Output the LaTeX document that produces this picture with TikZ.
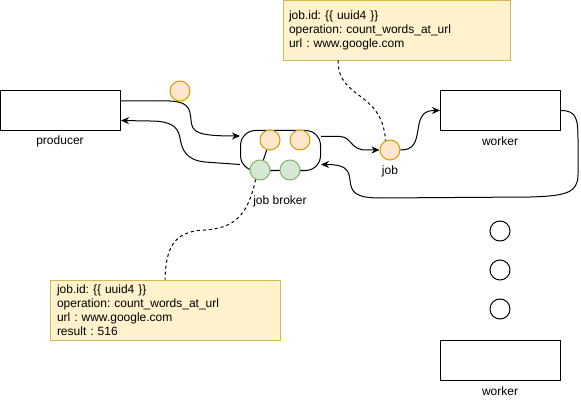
\documentclass[tikz,border=0pt]{standalone}
\usepackage{fontspec}
\setmainfont{Liberation Sans}
\usetikzlibrary{arrows.meta}
\definecolor{orfill}{HTML}{FFE6CC}
\definecolor{ordraw}{HTML}{D79B00}
\definecolor{grfill}{HTML}{D5E8D4}
\definecolor{grdraw}{HTML}{82B366}
\definecolor{ntfill}{HTML}{FFF2CC}
\definecolor{ntdraw}{HTML}{D6B656}
\frenchspacing
\tikzset{
  box/.style={draw, line width=1pt, minimum width=120pt, minimum height=40pt, inner sep=0pt},
  lbl/.style={font=\fontsize{12pt}{14pt}\selectfont, inner sep=0pt},
  blob/.style={circle, draw, line width=1pt, minimum size=20pt, inner sep=0pt},
  orblob/.style={blob, fill=orfill, draw=ordraw},
  grblob/.style={blob, fill=grfill, draw=grdraw},
  wblob/.style={blob, fill=white, draw=black},
  brokerbox/.style={draw, line width=1pt, rounded corners=15pt, minimum width=80pt, minimum height=40pt, inner sep=0pt},
  notebox/.style={draw=ntdraw, fill=ntfill, line width=1pt, align=left, font=\fontsize{12pt}{14pt}\selectfont\frenchspacing, minimum height=60pt},
  arr/.style={line width=1pt, -{Stealth[length=8pt,width=7pt]}},
  dsh/.style={line width=1pt, dash pattern=on 3pt off 3pt},
}
\begin{document}
\begin{tikzpicture}[x=1pt,y=-1pt]
\useasboundingbox (0,0) rectangle (581,401);
% boxes
\node[box] (prod) at (60.5,110.5) {};
\node[lbl] (prodl) at (60,141) {producer};
\node[box] (w1) at (500.5,110.5) {};
\node[lbl] (w1l) at (500,141) {worker};
\node[box] (w2) at (500.5,360.5) {};
\node[lbl] (w2l) at (500,391) {worker};
\node[wblob] (d1) at (500,231) {};
\node[wblob] (d2) at (500,270) {};
\node[wblob] (d3) at (500,309) {};
% broker
\node[brokerbox] (br) at (280.5,150.5) {};
\node[orblob] (o0) at (180,91) {};
\node[orblob] (o1) at (270,140) {};
\node[orblob] (o2) at (300,140) {};
\node[grblob] (g1) at (260,170) {};
\node[grblob] (g2) at (290,170) {};
\draw[line width=1pt] (o1) -- (g1);
\node[lbl] (brl) at (280,201) {job broker};
% job
\node[orblob] (job) at (390,150) {};
\node[lbl] (jobl) at (390,171) {job};
% notes
\node[notebox, minimum width=227pt, text width=215pt, inner xsep=6pt] (n1) at (396.5,30.5)
  {job.id: \{\{ uuid4 \}\}\\operation: count\_words\_at\_url\\url : www.google.com};
\node[notebox, minimum width=230pt, text width=216pt, inner xsep=7pt] (n2) at (165,310)
  {job.id: \{\{ uuid4 \}\}\\operation: count\_words\_at\_url\\url : www.google.com\\result : 516};
\coordinate (n1p) at (338,60.5);
% connectors
\draw[arr] ([yshift=9.5pt]prod.east) -- (170,101) .. controls (188,102) and (190,108) .. (191,120)
  .. controls (192,132) and (196,136) .. ([yshift=14.5pt]br.west);
\draw[arr] ([yshift=-14pt]br.west) -- (205,162) .. controls (186,160) and (182,150) .. (180,138)
  .. controls (178,126) and (170,121) .. (150,121) -- ([yshift=-10pt]prod.east);
\draw[arr] ([yshift=14pt]br.east) -- (340,136.5) .. controls (352,137) and (350,150) .. (366,150) -- (job.west);
\draw[arr] (job.east) .. controls (414,150) and (416,142) .. (418,130)
  .. controls (420,114) and (425,110.5) .. (w1.west);
\draw[arr] (w1.east) .. controls (577,110.5) and (578,120) .. (578,140) -- (578,175)
  .. controls (578,193) and (565,196) .. (530,197) -- (380,198)
  .. controls (355,198) and (351,192) .. (350,180)
  .. controls (349,168) and (343,164.5) .. ([yshift=-14pt]br.east);
\draw[dsh] (n1p) .. controls (338,100) and (382,90) .. (job.115);
\draw[dsh] (g1.245) .. controls (248,215) and (235,228) .. (205,230)
  .. controls (172,231) and (166,250) .. (n2.north);
\end{tikzpicture}
\end{document}
